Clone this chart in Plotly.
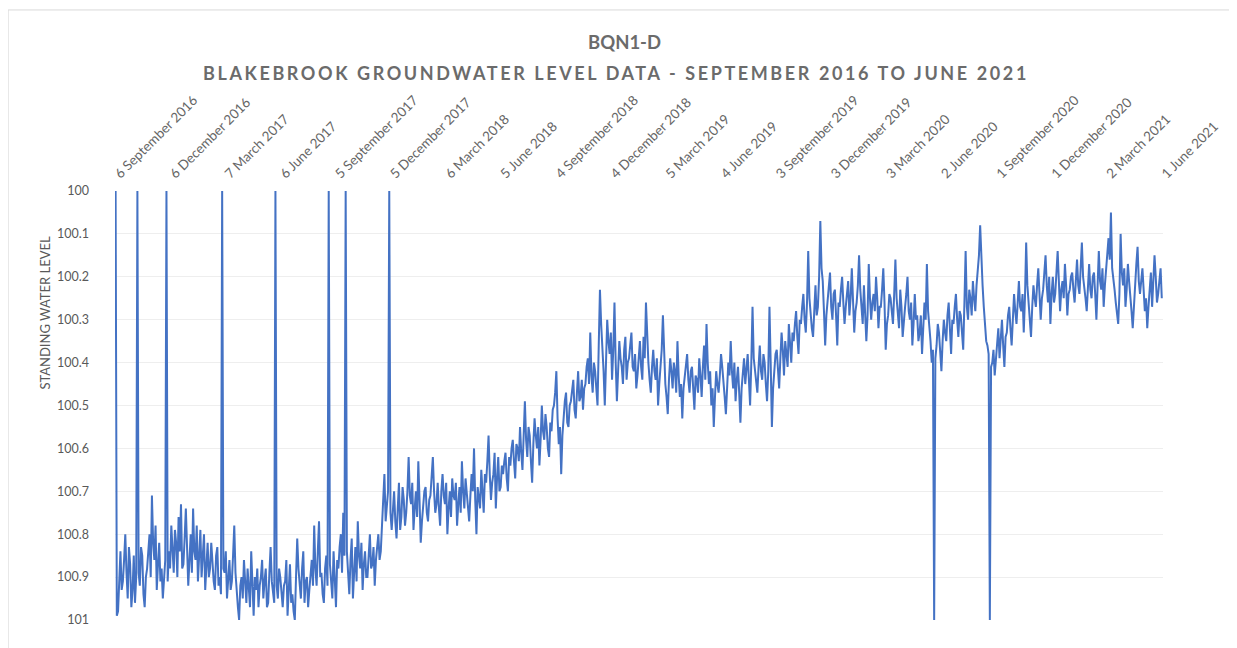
import pandas as pd
import plotly.graph_objects as go

# standing water level readings, every 2 days from 6 Sep 2016
level = [
    100.00, 100.99, 100.98, 100.88, 100.84, 100.93, 100.91, 100.86, 100.80, 100.89,
    100.95, 100.83, 100.87, 100.97, 100.93, 100.85, 100.96, 100.90, 100.00, 100.89,
    100.92, 100.83, 100.85, 100.94, 100.97, 100.90, 100.88, 100.84, 100.80, 100.90,
    100.71, 100.82, 100.86, 100.78, 100.93, 100.87, 100.82, 100.91, 100.88, 100.95,
    100.90, 100.86, 100.00, 100.91, 100.84, 100.88, 100.78, 100.85, 100.89, 100.79,
    100.82, 100.90, 100.76, 100.84, 100.73, 100.88, 100.87, 100.81, 100.74, 100.83,
    100.92, 100.86, 100.80, 100.89, 100.74, 100.84, 100.86, 100.78, 100.91, 100.85,
    100.79, 100.90, 100.84, 100.80, 100.93, 100.86, 100.82, 100.90, 100.88, 100.82,
    100.87, 100.91, 100.93, 100.85, 100.83, 100.92, 100.90, 100.94, 100.00, 100.88,
    100.89, 100.84, 100.95, 100.90, 100.86, 100.93, 100.91, 100.85, 100.78, 100.89,
    100.94, 100.97, 101.00, 100.92, 100.90, 100.95, 100.86, 100.91, 100.96, 100.88,
    100.92, 100.97, 100.84, 100.93, 100.99, 100.90, 100.93, 100.88, 100.97, 100.92,
    100.90, 100.86, 100.95, 100.91, 100.88, 100.97, 100.96, 100.89, 100.83, 100.91,
    100.93, 100.96, 100.00, 100.92, 100.95, 100.88, 100.90, 100.94, 100.97, 100.92,
    100.91, 100.86, 100.99, 100.93, 100.87, 100.96, 100.94, 100.98, 101.00, 100.90,
    100.81, 100.88, 100.92, 100.95, 100.88, 100.84, 100.96, 100.91, 100.90, 100.97,
    100.93, 100.89, 100.86, 100.92, 100.78, 100.88, 100.92, 100.84, 100.77, 100.90,
    100.89, 100.94, 100.96, 100.88, 100.85, 100.92, 100.00, 100.87, 100.91, 100.95,
    100.84, 100.90, 100.97, 100.86, 100.88, 100.83, 100.80, 100.89, 100.75, 100.85,
    100.00, 100.84, 100.90, 100.94, 100.86, 100.81, 100.95, 100.88, 100.83, 100.91,
    100.77, 100.85, 100.88, 100.82, 100.93, 100.87, 100.84, 100.90, 100.90, 100.85,
    100.80, 100.88, 100.87, 100.83, 100.92, 100.86, 100.83, 100.80, 100.86, 100.84,
    100.78, 100.72, 100.66, 100.77, 100.74, 100.70, 100.00, 100.75, 100.79, 100.73,
    100.70, 100.77, 100.81, 100.74, 100.68, 100.79, 100.76, 100.69, 100.72, 100.78,
    100.75, 100.70, 100.62, 100.71, 100.73, 100.68, 100.79, 100.74, 100.70, 100.76,
    100.63, 100.72, 100.82, 100.77, 100.74, 100.70, 100.69, 100.75, 100.77, 100.72,
    100.71, 100.67, 100.62, 100.70, 100.75, 100.73, 100.68, 100.74, 100.78, 100.70,
    100.66, 100.71, 100.73, 100.68, 100.80, 100.74, 100.70, 100.76, 100.67, 100.71,
    100.72, 100.68, 100.78, 100.73, 100.69, 100.75, 100.63, 100.70, 100.74, 100.67,
    100.70, 100.73, 100.77, 100.71, 100.66, 100.70, 100.60, 100.72, 100.80, 100.69,
    100.71, 100.74, 100.65, 100.69, 100.75, 100.66, 100.68, 100.63, 100.57, 100.66,
    100.72, 100.68, 100.66, 100.61, 100.74, 100.67, 100.62, 100.70, 100.69, 100.64,
    100.66, 100.63, 100.61, 100.67, 100.70, 100.62, 100.64, 100.60, 100.58, 100.63,
    100.67, 100.59, 100.60, 100.63, 100.55, 100.61, 100.65, 100.57, 100.49, 100.58,
    100.62, 100.55, 100.57, 100.63, 100.68, 100.59, 100.53, 100.57, 100.60, 100.55,
    100.64, 100.58, 100.50, 100.56, 100.58, 100.52, 100.55, 100.60, 100.62, 100.54,
    100.56, 100.51, 100.50, 100.47, 100.42, 100.53, 100.59, 100.55, 100.66, 100.57,
    100.52, 100.49, 100.47, 100.54, 100.55, 100.50, 100.49, 100.46, 100.44, 100.51,
    100.53, 100.47, 100.42, 100.49, 100.48, 100.44, 100.51, 100.46, 100.45, 100.41,
    100.39, 100.45, 100.33, 100.43, 100.47, 100.40, 100.42, 100.46, 100.50, 100.36,
    100.23, 100.31, 100.36, 100.42, 100.50, 100.38, 100.30, 100.35, 100.38, 100.33,
    100.44, 100.37, 100.26, 100.40, 100.49, 100.42, 100.35, 100.39, 100.41, 100.45,
    100.37, 100.34, 100.44, 100.40, 100.39, 100.36, 100.33, 100.41, 100.42, 100.38,
    100.46, 100.43, 100.38, 100.35, 100.41, 100.44, 100.34, 100.39, 100.26, 100.36,
    100.40, 100.44, 100.47, 100.41, 100.37, 100.42, 100.44, 100.39, 100.50, 100.45,
    100.41, 100.37, 100.29, 100.40, 100.45, 100.48, 100.52, 100.44, 100.39, 100.42,
    100.46, 100.40, 100.42, 100.47, 100.35, 100.43, 100.48, 100.45, 100.53, 100.46,
    100.43, 100.40, 100.38, 100.44, 100.47, 100.42, 100.41, 100.46, 100.51, 100.43,
    100.44, 100.47, 100.39, 100.43, 100.48, 100.41, 100.36, 100.44, 100.31, 100.40,
    100.45, 100.42, 100.50, 100.46, 100.55, 100.48, 100.42, 100.45, 100.47, 100.43,
    100.38, 100.41, 100.44, 100.48, 100.52, 100.45, 100.40, 100.43, 100.35, 100.42,
    100.46, 100.40, 100.49, 100.44, 100.41, 100.47, 100.54, 100.46, 100.43, 100.39,
    100.45, 100.41, 100.38, 100.44, 100.50, 100.40, 100.27, 100.39, 100.42, 100.45,
    100.47, 100.41, 100.36, 100.42, 100.44, 100.38, 100.40, 100.45, 100.49, 100.42,
    100.27, 100.40, 100.55, 100.46, 100.41, 100.38, 100.37, 100.42, 100.46, 100.39,
    100.33, 100.37, 100.43, 100.35, 100.38, 100.41, 100.31, 100.36, 100.40, 100.33,
    100.35, 100.31, 100.28, 100.34, 100.38, 100.30, 100.31, 100.27, 100.24, 100.30,
    100.33, 100.26, 100.14, 100.25, 100.29, 100.32, 100.34, 100.27, 100.22, 100.29,
    100.27, 100.20, 100.07, 100.18, 100.21, 100.28, 100.36, 100.29, 100.25, 100.23,
    100.19, 100.27, 100.30, 100.24, 100.23, 100.29, 100.36, 100.26, 100.27, 100.23,
    100.20, 100.26, 100.31, 100.27, 100.24, 100.21, 100.29, 100.25, 100.18, 100.24,
    100.33, 100.28, 100.26, 100.22, 100.15, 100.23, 100.28, 100.31, 100.22, 100.27,
    100.35, 100.29, 100.17, 100.25, 100.30, 100.26, 100.24, 100.28, 100.20, 100.25,
    100.32, 100.27, 100.27, 100.23, 100.18, 100.26, 100.37, 100.31, 100.29, 100.24,
    100.25, 100.28, 100.31, 100.24, 100.16, 100.25, 100.28, 100.32, 100.23, 100.27,
    100.34, 100.29, 100.27, 100.24, 100.20, 100.28, 100.30, 100.26, 100.36, 100.31,
    100.24, 100.30, 100.29, 100.35, 100.33, 100.29, 100.38, 100.32, 100.26, 100.30,
    100.17, 100.28, 100.31, 100.35, 100.40, 100.37, 101.00, 100.39, 100.36, 100.31,
    100.33, 100.37, 100.42, 100.35, 100.30, 100.33, 100.35, 100.29, 100.26, 100.32,
    100.38, 100.30, 100.31, 100.27, 100.24, 100.30, 100.34, 100.28, 100.29, 100.33,
    100.37, 100.26, 100.14, 100.27, 100.30, 100.23, 100.25, 100.29, 100.21, 100.25,
    100.28, 100.22, 100.18, 100.15, 100.08, 100.17, 100.22, 100.27, 100.31, 100.35,
    100.36, 100.38, 101.00, 100.41, 100.40, 100.37, 100.43, 100.39, 100.35, 100.32,
    100.39, 100.34, 100.30, 100.36, 100.41, 100.34, 100.33, 100.29, 100.27, 100.32,
    100.36, 100.30, 100.24, 100.28, 100.31, 100.26, 100.21, 100.27, 100.28, 100.24,
    100.33, 100.25, 100.12, 100.22, 100.26, 100.29, 100.34, 100.27, 100.22, 100.25,
    100.27, 100.22, 100.18, 100.24, 100.30, 100.25, 100.23, 100.19, 100.15, 100.22,
    100.26, 100.20, 100.31, 100.24, 100.20, 100.26, 100.24, 100.19, 100.14, 100.21,
    100.28, 100.23, 100.21, 100.25, 100.17, 100.22, 100.29, 100.24, 100.23, 100.20,
    100.19, 100.23, 100.26, 100.21, 100.16, 100.22, 100.24, 100.18, 100.12, 100.20,
    100.22, 100.25, 100.28, 100.21, 100.17, 100.23, 100.25, 100.20, 100.19, 100.24,
    100.30, 100.22, 100.14, 100.21, 100.23, 100.18, 100.27, 100.22, 100.18, 100.15,
    100.11, 100.16, 100.05, 100.18, 100.20, 100.23, 100.26, 100.29, 100.31, 100.24,
    100.10, 100.19, 100.22, 100.18, 100.27, 100.23, 100.17, 100.21, 100.24, 100.28,
    100.32, 100.26, 100.20, 100.17, 100.13, 100.21, 100.24, 100.20, 100.18, 100.23,
    100.28, 100.25, 100.32, 100.27, 100.22, 100.19, 100.27, 100.22, 100.15, 100.20,
    100.26, 100.24, 100.21, 100.18, 100.25,
]
dates = pd.date_range("2016-09-06", periods=len(level), freq="2D")

tick_dates = ["2016-09-06", "2016-12-06", "2017-03-07", "2017-06-06", "2017-09-05",
              "2017-12-05", "2018-03-06", "2018-06-05", "2018-09-04", "2018-12-04",
              "2019-03-05", "2019-06-04", "2019-09-03", "2019-12-03", "2020-03-03",
              "2020-06-02", "2020-09-01", "2020-12-01", "2021-03-02", "2021-06-01"]
tick_text = ["6 September 2016", "6 December 2016", "7 March 2017", "6 June 2017",
             "5 September 2017", "5 December 2017", "6 March 2018", "5 June 2018",
             "4 September 2018", "4 December 2018", "5 March 2019", "4 June 2019",
             "3 September 2019", "3 December 2019", "3 March 2020", "2 June 2020",
             "1 September 2020", "1 December 2020", "2 March 2021", "1 June 2021"]
y_ticks = [100.0, 100.1, 100.2, 100.3, 100.4, 100.5, 100.6, 100.7, 100.8, 100.9, 101.0]
y_text = ["100", "100.1", "100.2", "100.3", "100.4", "100.5", "100.6", "100.7", "100.8", "100.9", "101"]

grey = "#595959"
font = "Lato, 'Open Sans', sans-serif"

fig = go.Figure()
fig.add_trace(go.Scatter(x=dates, y=level, mode="lines",
                         line=dict(color="#4472C4", width=2), showlegend=False))

# page has an 8px body margin, so the plot box sits at page x 115-1163, y 191-620
fig.update_layout(
    width=1237, height=648,
    margin=dict(l=107, r=82, t=183, b=36),
    paper_bgcolor="white", plot_bgcolor="white",
    font=dict(family=font, color=grey),
    xaxis=dict(type="date", side="top", range=["2016-09-05", "2021-06-02"],
               tickvals=tick_dates, ticktext=tick_text, tickangle=-45,
               tickfont=dict(size=13.5, color="#666666"), showgrid=False,
               showline=False, zeroline=False, ticks="", ticklabelstandoff=6,
               automargin=False),
    yaxis=dict(range=[101, 100], tickvals=y_ticks, ticktext=y_text,
               tickfont=dict(size=12.5, color=grey), gridcolor="#EEEEEE",
               showline=False, zeroline=False, ticks="", ticklabelstandoff=25,
               automargin=False),
)

# titles and axis label
fig.add_annotation(text="<b>BQN1-D</b>", x=0.486, y=1.347, xref="paper", yref="paper",
                   xanchor="center", yanchor="middle", showarrow=False,
                   font=dict(size=18.5, color="#6b6b6b", family=font))
fig.add_annotation(text="<span style='letter-spacing:2.6px'><b>BLAKEBROOK GROUNDWATER LEVEL DATA - SEPTEMBER 2016 TO JUNE 2021</b></span>",
                   x=0.478, y=1.275, xref="paper", yref="paper",
                   xanchor="center", yanchor="middle", showarrow=False,
                   font=dict(size=18, color="#6b6b6b", family=font))
fig.add_annotation(text="STANDING WATER LEVEL", x=-0.067, y=0.716, xref="paper", yref="paper",
                   xanchor="center", yanchor="middle", textangle=-90, showarrow=False,
                   font=dict(size=13, color=grey, family=font))

# outer frame
fig.add_shape(type="line", xref="paper", yref="paper", x0=-0.102, x1=1.1, y0=1.422, y1=1.422,
              line=dict(color="#D9D9D9", width=1))
fig.add_shape(type="line", xref="paper", yref="paper", x0=-0.102, x1=-0.102, y0=-0.1, y1=1.422,
              line=dict(color="#D9D9D9", width=1))

fig.write_html("out.html")
